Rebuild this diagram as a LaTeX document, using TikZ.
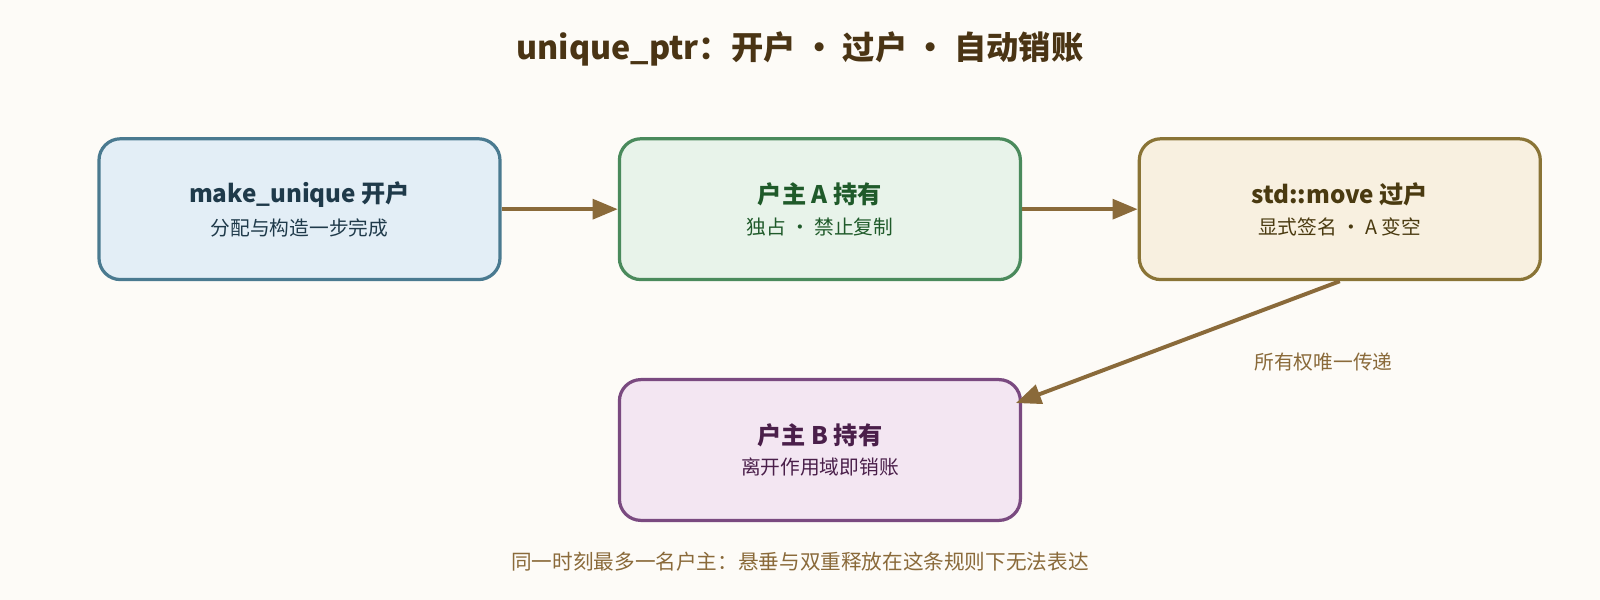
\documentclass[tikz,border=0pt]{standalone}
\usepackage{fontspec}
\setmainfont{Noto Sans CJK SC}
\usetikzlibrary{arrows.meta,calc}
\definecolor{bg_paper}{HTML}{FDFBF7}
\definecolor{node_blue}{HTML}{E3EEF6}
\definecolor{edge_blue}{HTML}{4A7A90}
\definecolor{text_blue}{HTML}{1F3A4A}
\definecolor{node_green}{HTML}{E8F3EA}
\definecolor{edge_green}{HTML}{4A8A5C}
\definecolor{text_green}{HTML}{1F5A2A}
\definecolor{node_gold}{HTML}{F8F0E0}
\definecolor{edge_gold}{HTML}{8A7436}
\definecolor{text_gold}{HTML}{4A3A10}
\definecolor{node_plum}{HTML}{F3E6F2}
\definecolor{edge_plum}{HTML}{7A4A80}
\definecolor{text_plum}{HTML}{4A1F4A}
\definecolor{arrow_brown}{HTML}{8A6A3A}
\definecolor{title_brown}{HTML}{4A3414}
\newcommand{\headsize}{\fontsize{13.5}{16}\selectfont\bfseries}
\newcommand{\subsize}{\fontsize{11}{14}\selectfont}

\begin{document}
\begin{tikzpicture}[x=0.02cm,y=-0.02cm,>={Triangle[length=14pt,width=11pt]}]
    \tikzstyle{account}=[rounded corners=12pt, line width=1.8pt, minimum width=393*0.02cm, minimum height=138*0.02cm, align=center]
    \tikzstyle{flow}=[->, arrow_brown, line width=2.2pt]

    \fill[bg_paper] (0,0) rectangle (1568,588);

    \node[font=\fontsize{18}{22}\selectfont\bfseries, text=title_brown] (title) at (784,48) {unique\_ptr：开户 • 过户 • 自动销账};

    \node[account, fill=node_blue, draw=edge_blue, text=text_blue] (open) at (293.5,205)
      {{\headsize make\_unique 开户}\\[5pt]{\subsize 分配与构造一步完成}};
    \node[account, fill=node_green, draw=edge_green, text=text_green] (ownA) at (803.5,205)
      {{\headsize 户主 A 持有}\\[5pt]{\subsize 独占 · 禁止复制}};
    \node[account, fill=node_gold, draw=edge_gold, text=text_gold] (move) at (1313,205)
      {{\headsize std::move 过户}\\[5pt]{\subsize 显式签名 · A 变空}};
    \node[account, fill=node_plum, draw=edge_plum, text=text_plum] (ownB) at (803.5,441)
      {{\headsize 户主 B 持有}\\[5pt]{\subsize 离开作用域即销账}};

    \draw[flow] (open) -- (ownA);
    \draw[flow] (ownA) -- (move);
    \coordinate (inB) at ($(ownB.east)+(-6,-46)$);
    \draw[flow] (move.south) -- (inB);

    \node[font=\subsize, text=arrow_brown] (passlabel) at (1297,355) {所有权唯一传递};
    \node[font=\fontsize{11.5}{14}\selectfont, text=arrow_brown] (rule) at (784,550) {同一时刻最多一名户主：悬垂与双重释放在这条规则下无法表达};
\end{tikzpicture}
\end{document}
